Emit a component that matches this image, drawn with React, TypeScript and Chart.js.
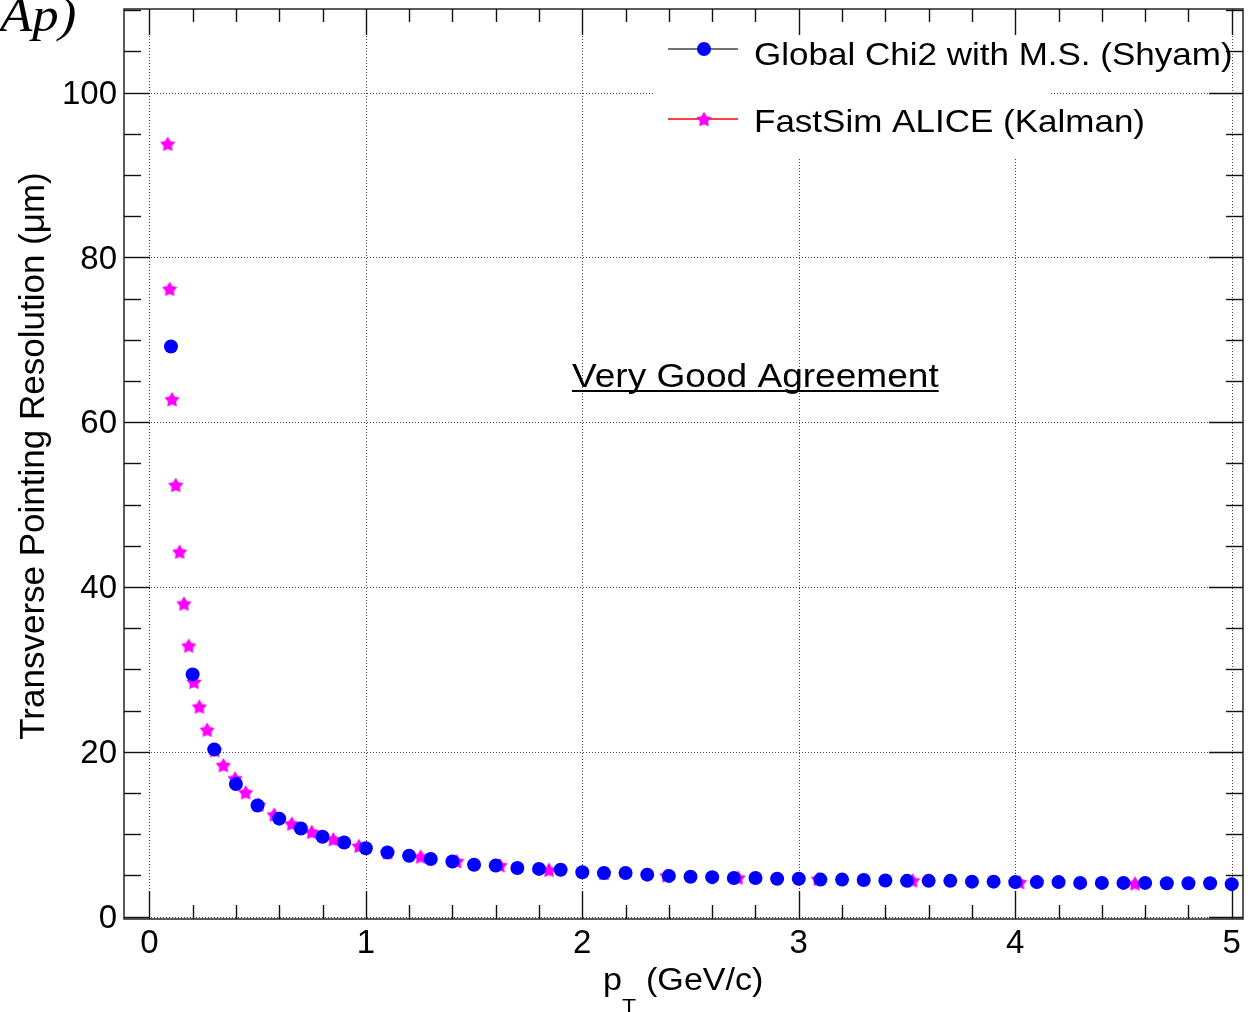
import React, { useEffect, useRef } from "react";
import { Chart, registerables } from "chart.js";

Chart.register(...registerables);

// ---------------- data ----------------
const seriesNames = ["Global Chi2 with M.S. (Shyam)", "FastSim ALICE (Kalman)"];

const globalPt = [
  0.1, 0.2, 0.3, 0.4, 0.5, 0.6, 0.7, 0.8, 0.9, 1.0,
  1.1, 1.2, 1.3, 1.4, 1.5, 1.6, 1.7, 1.8, 1.9, 2.0,
  2.1, 2.2, 2.3, 2.4, 2.5, 2.6, 2.7, 2.8, 2.9, 3.0,
  3.1, 3.2, 3.3, 3.4, 3.5, 3.6, 3.7, 3.8, 3.9, 4.0,
  4.1, 4.2, 4.3, 4.4, 4.5, 4.6, 4.7, 4.8, 4.9, 5.0,
];
const globalRes = [
  69.2, 29.4, 20.3, 16.1, 13.5, 11.9, 10.7, 9.7, 9.0, 8.3,
  7.8, 7.4, 7.0, 6.7, 6.3, 6.2, 5.9, 5.8, 5.7, 5.4,
  5.3, 5.3, 5.1, 4.95, 4.85, 4.8, 4.7, 4.7, 4.6, 4.6,
  4.5, 4.5, 4.45, 4.4, 4.35, 4.35, 4.35, 4.25, 4.25, 4.2,
  4.2, 4.2, 4.1, 4.1, 4.1, 4.1, 4.05, 4.05, 4.05, 3.95,
];

const fastPt = [
  0.085, 0.094, 0.105, 0.122, 0.14, 0.16, 0.182, 0.206, 0.231, 0.267,
  0.302, 0.342, 0.396, 0.445, 0.505, 0.577, 0.658, 0.75, 0.85, 0.969,
  1.1, 1.253, 1.42, 1.62, 1.846, 2.1, 2.39, 2.72, 3.09, 3.526,
  4.02, 4.553,
];
const fastRes = [
  93.8, 76.2, 62.8, 52.4, 44.3, 38.0, 32.9, 28.5, 25.5, 22.7,
  20.2, 18.4, 16.8, 15.1, 13.6, 12.4, 11.3, 10.3, 9.4, 8.6,
  7.8, 7.3, 6.75, 6.25, 5.7, 5.3, 5.0, 4.75, 4.6, 4.4,
  4.2, 4.05,
];

const xTickValues = [0, 1, 2, 3, 4, 5];
const xTickLabels = ["0", "1", "2", "3", "4", "5"];
const yTickValues = [0, 20, 40, 60, 80, 100];
const yTickLabels = ["0", "20", "40", "60", "80", "100"];

const xTitleMain = "p";
const xTitleSub = "T";
const xTitleRest = "(GeV/c)";
const yTitle = "Transverse Pointing Resolution (\u03bcm)";
const annotation = "Very Good Agreement";
const cornerText = "Ap)";

// ---------------- style ----------------
const SANS = "'Liberation Sans', Arial, Helvetica, sans-serif";
const SERIF = "'Liberation Serif', 'Times New Roman', serif";

function makeStar(size: number, color: string): HTMLCanvasElement {
  const c = document.createElement("canvas");
  c.width = size;
  c.height = size;
  const g = c.getContext("2d")!;
  const cx = size / 2;
  const cy = size / 2 + 0.8;
  const R = size / 2;
  const r = R * 0.55;
  g.beginPath();
  for (let i = 0; i < 10; i++) {
    const ang = -Math.PI / 2 + (i * Math.PI) / 5;
    const rad = i % 2 === 0 ? R : r;
    g.lineTo(cx + rad * Math.cos(ang), cy + rad * Math.sin(ang));
  }
  g.closePath();
  g.fillStyle = color;
  g.fill();
  return c;
}

function drawStretched(
  ctx: CanvasRenderingContext2D,
  text: string,
  x: number,
  y: number,
  font: string,
  sx: number
) {
  ctx.save();
  ctx.font = font;
  ctx.textAlign = "left";
  ctx.textBaseline = "alphabetic";
  ctx.translate(x, y);
  ctx.scale(sx, 1);
  ctx.fillText(text, 0, 0);
  const w = ctx.measureText(text).width * sx;
  ctx.restore();
  return w;
}

export default function App() {
  const ref = useRef<HTMLCanvasElement | null>(null);

  useEffect(() => {
    document.body.style.margin = "0";
    const canvas = ref.current;
    if (!canvas) return;
    const star = makeStar(16, "#ff00ff");
    const legendStar = makeStar(16, "#ff00ff");

    const rootPlugin = {
      id: "rootStyle",
      beforeDatasetsDraw(chart: any) {
        const { ctx, chartArea: a, scales } = chart;
        const xs = scales.x;
        const ys = scales.y;
        ctx.save();
        ctx.strokeStyle = "#444";
        ctx.lineWidth = 1;
        ctx.setLineDash([1, 2]);
        xTickValues.forEach((v) => {
          const px = Math.round(xs.getPixelForValue(v)) + 0.5;
          ctx.beginPath();
          ctx.moveTo(px, a.top);
          ctx.lineTo(px, a.bottom);
          ctx.stroke();
        });
        yTickValues.forEach((v) => {
          const py = Math.round(ys.getPixelForValue(v)) + 0.5;
          ctx.beginPath();
          ctx.moveTo(a.left, py);
          ctx.lineTo(a.right, py);
          ctx.stroke();
        });
        ctx.setLineDash([]);
        // legend box (white fill, no border)
        ctx.fillStyle = "#fff";
        ctx.fillRect(655, a.top + 1, 395, 147);
        ctx.restore();
      },
      afterDatasetsDraw(chart: any) {
        const { ctx, chartArea: a, scales } = chart;
        const xs = scales.x;
        const ys = scales.y;
        ctx.save();
        // frame
        ctx.strokeStyle = "#333";
        ctx.lineWidth = 1.6;
        ctx.strokeRect(a.left, a.top, a.right - a.left, a.bottom - a.top);
        // ticks
        ctx.strokeStyle = "#111";
        ctx.lineWidth = 1.4;
        const line = (x1: number, y1: number, x2: number, y2: number) => {
          ctx.beginPath();
          ctx.moveTo(x1, y1);
          ctx.lineTo(x2, y2);
          ctx.stroke();
        };
        // x ticks: major every 1, minor every 0.2
        for (let i = Math.ceil(xs.min / 0.2); i * 0.2 <= xs.max + 1e-9; i++) {
          const v = i * 0.2;
          const major = i % 5 === 0;
          const px = Math.round(xs.getPixelForValue(v)) + 0.5;
          const len = major ? 28 : 14;
          line(px, a.bottom, px, a.bottom - len);
          line(px, a.top, px, a.top + (major ? 26 : 13));
        }
        // y ticks: major every 20, minor every 5
        for (let i = Math.ceil(ys.min / 5); i * 5 <= ys.max + 1e-9; i++) {
          const v = i * 5;
          const major = i % 4 === 0;
          const py = Math.round(ys.getPixelForValue(v)) + 0.5;
          line(a.left, py, a.left + (major ? 26 : 17), py);
          line(a.right, py, a.right - (major ? 34 : 17), py);
        }

        // legend entries
        ctx.lineWidth = 1.6;
        ctx.strokeStyle = "#444";
        line(668, 49, 738, 49);
        ctx.fillStyle = "#0000ff";
        ctx.beginPath();
        ctx.arc(704, 49, 7, 0, Math.PI * 2);
        ctx.fill();
        ctx.strokeStyle = "#ff0000";
        line(668, 119, 738, 119);
        ctx.drawImage(legendStar, 704 - 8, 119 - 8);

        ctx.fillStyle = "#000";
        drawStretched(ctx, seriesNames[0], 754, 65, `32px ${SANS}`, 1.094);
        drawStretched(ctx, seriesNames[1], 754, 132, `32px ${SANS}`, 1.094);

        // annotation with underline
        const w = drawStretched(ctx, annotation, 572, 387, `34px ${SANS}`, 1.09);
        ctx.strokeStyle = "#000";
        ctx.lineWidth = 2;
        line(572, 391, 572 + w, 391);

        // x title
        drawStretched(ctx, xTitleMain, 603, 990, `31px ${SANS}`, 1.1);
        drawStretched(ctx, xTitleSub, 622, 1013, `21px ${SANS}`, 1.1);
        drawStretched(ctx, xTitleRest, 646, 990, `31px ${SANS}`, 1.1);

        // y title (rotated)
        ctx.save();
        ctx.translate(44, 456);
        ctx.rotate(-Math.PI / 2);
        ctx.font = `35px ${SANS}`;
        ctx.textAlign = "center";
        ctx.textBaseline = "alphabetic";
        ctx.fillStyle = "#000";
        ctx.fillText(yTitle, 0, 0);
        ctx.restore();

        // cropped corner text
        drawStretched(ctx, cornerText, 0, 31, `italic 48px ${SERIF}`, 1.1);

        ctx.restore();
      },
    };

    const chart = new Chart(canvas, {
      type: "scatter",
      data: {
        datasets: [
          {
            label: seriesNames[0],
            data: globalPt.map((x, i) => ({ x, y: globalRes[i] })),
            showLine: false,
            pointStyle: "circle",
            pointRadius: 7,
            pointHoverRadius: 7,
            pointBackgroundColor: "#0000ff",
            pointBorderColor: "#0000ff",
            pointBorderWidth: 0,
            borderColor: "#333",
          },
          {
            label: seriesNames[1],
            data: fastPt.map((x, i) => ({ x, y: fastRes[i] })),
            showLine: false,
            pointStyle: star,
            pointRadius: 8,
            pointHoverRadius: 8,
            pointBackgroundColor: "#ff00ff",
            pointBorderColor: "#ff00ff",
            borderColor: "#ff0000",
          },
        ],
      },
      options: {
        responsive: false,
        maintainAspectRatio: false,
        devicePixelRatio: 1,
        animation: false,
        events: [],
        layout: { padding: { top: 8, right: 14, left: 0, bottom: 0 } },
        plugins: {
          legend: { display: false },
          tooltip: { enabled: false },
          title: { display: false },
        },
        scales: {
          x: {
            type: "linear",
            min: -0.117,
            max: 5.052,
            grid: { display: false, drawTicks: false },
            border: { display: false },
            afterBuildTicks: (s: any) => {
              s.ticks = xTickValues.map((v) => ({ value: v }));
            },
            afterFit: (s: any) => {
              s.height = 93;
              s.paddingLeft = 0;
              s.paddingRight = 0;
              s.paddingTop = 0;
              s.paddingBottom = 0;
            },
            ticks: {
              color: "#000",
              font: { family: SANS, size: 33 },
              padding: 5,
              maxRotation: 0,
              autoSkip: false,
              callback: (_v: any, i: number) => xTickLabels[i],
            },
          },
          y: {
            type: "linear",
            min: -0.28,
            max: 110.15,
            grid: { display: false, drawTicks: false },
            border: { display: false },
            afterBuildTicks: (s: any) => {
              s.ticks = yTickValues.map((v) => ({ value: v }));
            },
            afterFit: (s: any) => {
              s.width = 124;
              s.paddingLeft = 0;
              s.paddingRight = 0;
              s.paddingTop = 0;
              s.paddingBottom = 0;
            },
            ticks: {
              color: "#000",
              font: { family: SANS, size: 33 },
              padding: 7,
              labelOffset: 2,
              autoSkip: false,
              callback: (_v: any, i: number) => yTickLabels[i],
            },
          },
        },
      },
      plugins: [rootPlugin],
    } as any);

    return () => {
      chart.destroy();
    };
  }, []);

  return (
    <div style={{ width: 1257, height: 1012, background: "#fff" }}>
      <canvas ref={ref} width={1257} height={1012} style={{ display: "block" }} />
    </div>
  );
}
